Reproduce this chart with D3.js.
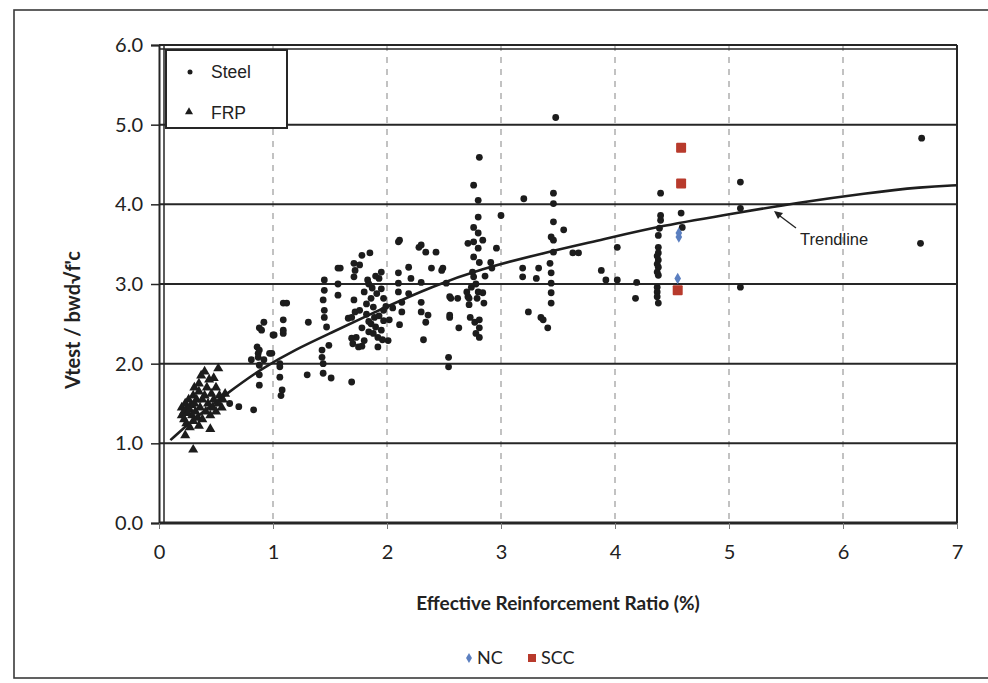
<!DOCTYPE html>
<html><head><meta charset="utf-8">
<script src="https://cdn.jsdelivr.net/npm/d3@7"></script>
<style>
body{margin:0;background:#fff;}
svg{display:block;}
</style></head>
<body><svg id="c" width="988" height="683"></svg>
<script>
// ---- data ----
const xTicks = [0,1,2,3,4,5,6,7];
const xTickLabels = ["0","1","2","3","4","5","6","7"];
const yTicks = [0,1,2,3,4,5,6];
const yTickLabels = ["0.0","1.0","2.0","3.0","4.0","5.0","6.0"];

const steel = [
[0.62,1.50],[0.70,1.46],[0.83,1.42],
[0.86,2.21],[0.87,2.13],[0.87,2.08],[0.88,2.17],[0.88,1.98],[0.88,1.86],[0.88,1.73],[0.90,2.42],[0.92,2.05],[0.81,2.05],[0.97,2.13],[0.99,2.13],[1.01,2.36],[1.06,1.96],[1.06,1.83],[1.08,1.67],[1.07,1.60],[1.09,2.38],[1.06,2.00],[1.09,2.76],[1.12,2.76],[1.09,2.55],[1.09,2.42],[0.92,2.52],[0.88,2.45],[1.00,2.36],[1.31,2.52],
[1.30,1.86],[1.45,3.05],[1.45,2.92],[1.44,2.80],[1.45,2.67],[1.45,2.58],[1.47,2.46],[1.43,2.17],[1.43,2.08],[1.44,2.00],[1.44,1.88],[1.51,1.82],[1.69,1.77],
[1.57,3.20],[1.57,3.00],[1.57,2.86],[1.71,3.26],[1.71,3.09],[1.71,2.80],[1.69,2.58],[1.73,2.33],[1.75,2.21],
[1.59,3.20],[1.72,3.17],[1.78,3.36],[1.85,3.39],[1.76,3.24],[1.72,2.65],[1.76,2.67],[1.80,2.90],[1.84,3.00],[1.86,2.82],[1.88,2.71],[1.89,2.58],[1.90,2.46],[1.92,2.33],[1.95,3.15],[1.93,3.07],[1.95,2.94],[1.97,2.82],[1.97,2.67],[1.97,2.54],[1.95,2.42],[1.84,2.53],[1.84,2.40],[1.80,2.29],[1.70,2.25],[1.78,2.22],[1.92,2.21],[2.01,2.29],[1.66,2.57],[1.69,2.32],[1.49,2.23],
[1.82,2.75],[1.87,2.95],[1.90,3.10],[1.93,2.60],[1.86,2.50],[1.82,2.62],[1.99,2.72],[1.91,2.88],[1.78,2.45],[1.83,3.05],[1.96,2.30],[1.88,2.38],
[2.10,3.53],[2.10,3.14],[2.10,3.01],[2.10,2.90],[2.13,2.77],[2.13,2.65],[2.11,2.49],[2.19,3.21],[2.21,3.07],[2.28,3.46],[2.34,3.40],[2.43,3.40],[2.39,3.20],[2.48,3.17],[2.30,3.02],[2.30,2.77],[2.30,2.65],[2.36,2.61],[2.34,2.52],[2.32,2.30],[2.55,2.84],[2.62,2.82],[2.55,2.58],[2.63,2.45],[2.54,2.08],[2.54,1.96],[2.11,3.55],[2.30,3.49],[2.19,2.88],[2.02,2.55],[2.05,2.70],
[2.71,3.51],[2.71,2.84],[2.81,4.59],[2.76,4.24],[2.80,4.05],[3.00,3.86],[2.80,3.84],[2.76,3.71],[2.80,3.64],[2.84,3.55],[2.76,3.53],[2.80,3.45],[2.96,3.45],[2.76,3.34],[2.81,3.27],[2.91,3.27],[2.92,3.20],[2.49,3.20],[2.76,3.09],[2.52,3.01],[2.74,2.96],[2.80,2.90],[2.84,2.89],[2.56,2.82],[2.72,2.82],[2.79,2.82],[2.85,2.76],[2.72,2.74],[2.55,2.61],[2.73,2.58],[2.77,2.52],[2.81,2.55],[2.81,2.45],[2.81,2.33],[2.78,2.38],[2.75,3.15],[2.78,3.00],[2.70,2.90],[2.86,3.10],
[3.20,4.07],[3.46,4.14],[3.46,4.01],[3.46,3.78],[3.55,3.68],[3.44,3.59],[3.46,3.55],[3.46,3.40],[3.63,3.39],[3.68,3.39],[3.43,3.26],[3.44,3.14],[3.44,3.01],[3.44,2.89],[3.44,2.76],[3.19,3.20],[3.19,3.09],[3.33,3.20],[3.31,3.07],[3.24,2.65],[3.35,2.58],[3.37,2.55],[3.41,2.45],[3.88,3.17],[3.92,3.05],[3.48,5.09],
[4.02,3.46],[4.02,3.05],[4.18,2.82],[4.19,3.02],[4.40,4.14],[4.40,3.86],[4.40,3.80],[4.38,3.61],[4.38,3.46],[4.38,3.39],[4.38,3.30],[4.38,3.21],[4.38,3.11],[4.37,2.96],[4.37,2.90],[4.37,2.84],[4.38,2.76],[4.39,3.70],[4.37,3.35],[4.37,3.25],[4.37,3.15],[4.58,3.89],[4.59,3.71],
[5.10,4.28],[5.10,3.95],[5.10,2.96],[6.69,4.83],[6.68,3.51]
];

const frp = [
[0.20,1.35],[0.20,1.45],[0.22,1.30],[0.22,1.40],[0.23,1.50],[0.24,1.25],[0.25,1.38],[0.25,1.45],[0.26,1.55],[0.27,1.20],[0.27,1.42],[0.28,1.48],[0.29,1.35],[0.30,1.60],[0.30,1.28],[0.31,1.70],[0.31,1.50],[0.32,1.40],[0.33,1.55],[0.34,1.32],[0.35,1.65],[0.35,1.75],[0.36,1.45],[0.37,1.85],[0.38,1.55],[0.38,1.30],[0.40,1.90],[0.40,1.60],[0.41,1.40],[0.42,1.70],[0.43,1.50],[0.44,1.80],[0.45,1.35],[0.46,1.62],[0.47,1.45],[0.48,1.82],[0.48,1.55],[0.50,1.70],[0.50,1.40],[0.52,1.94],[0.52,1.50],[0.53,1.60],[0.55,1.45],[0.56,1.55],[0.58,1.62],[0.23,1.10],[0.30,0.92],[0.45,1.18],[0.35,1.22]
];

const nc = [[4.56,3.59],[4.56,3.64],[4.55,3.07]];
const scc = [[4.58,4.71],[4.58,4.26],[4.55,2.92]];

const trend = [[0.1,1.04],[0.3,1.30],[0.6,1.63],[0.9,1.94],[1.2,2.18],[1.5,2.38],[2.0,2.72],[2.4,2.97],[2.8,3.18],[3.4,3.40],[3.9,3.56],[4.4,3.73],[5.1,3.90],[5.6,4.02],[6.2,4.14],[6.7,4.22],[7.0,4.24]];

// ---- drawing ----
const svg = d3.select("#c");
const x = d3.scaleLinear().domain([0,7]).range([159,957]);
const y = d3.scaleLinear().domain([0,6]).range([523,45]);
const dark = "#262626";
const calib = "Lato, 'Open Sans', sans-serif";
const arial = "'Liberation Sans', Arial, sans-serif";

// outer frame
svg.append("rect").attr("x",14).attr("y",10).attr("width",990).attr("height",668)
  .attr("fill","none").attr("stroke","#3a3a3a").attr("stroke-width",1.6);

// vertical dashed gridlines
svg.append("g").selectAll("line").data(xTicks.filter(d=>d>0&&d<7)).join("line")
  .attr("x1",d=>x(d)).attr("x2",d=>x(d)).attr("y1",y(6)).attr("y2",y(0))
  .attr("stroke","#9a9a9a").attr("stroke-width",1.2).attr("stroke-dasharray","6,6");

// horizontal gridlines
svg.append("g").selectAll("line").data(yTicks).join("line")
  .attr("x1",x(0)).attr("x2",x(7)).attr("y1",d=>y(d)).attr("y2",d=>y(d))
  .attr("stroke",dark).attr("stroke-width",d=>d===0?3:2);
// extra top double line
svg.append("line").attr("x1",x(0)).attr("x2",x(7)).attr("y1",y(6)+4).attr("y2",y(6)+4)
  .attr("stroke",dark).attr("stroke-width",1.5);

// axes
const yAxis = d3.axisLeft(y).tickValues(yTicks).tickFormat((d,i)=>yTickLabels[i]).tickSize(8).tickPadding(8);
const gy = svg.append("g").attr("transform",`translate(${x(0)},0)`).call(yAxis);
gy.select(".domain").attr("stroke",dark).attr("stroke-width",2);
gy.selectAll(".tick line").attr("stroke",dark).attr("stroke-width",1.5);
gy.selectAll("text").attr("font-family",calib).attr("font-size",20).attr("fill","#222");
// second left line
svg.append("line").attr("x1",x(0)+5).attr("x2",x(0)+5).attr("y1",y(6)).attr("y2",y(0))
  .attr("stroke",dark).attr("stroke-width",1.5);

const gx = svg.append("g").attr("transform",`translate(0,${y(0)})`)
  .call(d3.axisBottom(x).tickValues(xTicks).tickFormat((d,i)=>xTickLabels[i]).tickSize(6).tickPadding(16));
gx.select(".domain").remove();
gx.selectAll(".tick line").attr("stroke","#777").attr("stroke-width",1);
gx.selectAll("text").attr("font-family",calib).attr("font-size",20).attr("fill","#222");

// right border
svg.append("line").attr("x1",x(7)).attr("x2",x(7)).attr("y1",y(6)).attr("y2",y(0))
  .attr("stroke",dark).attr("stroke-width",2);

// axis titles
svg.append("text").attr("x",558).attr("y",610).attr("text-anchor","middle")
  .attr("font-family",calib).attr("font-weight","bold").attr("font-size",19).attr("fill","#222")
  .text("Effective Reinforcement Ratio (%)");
svg.append("text").attr("transform","translate(80,320) rotate(-90)").attr("text-anchor","middle")
  .attr("font-family",calib).attr("font-weight","bold").attr("font-size",20).attr("fill","#222")
  .text("Vtest / bwd\u221Af'c");

// trendline
svg.append("path").datum(trend)
  .attr("d",d3.line().x(d=>x(d[0])).y(d=>y(d[1])).curve(d3.curveBasis))
  .attr("fill","none").attr("stroke","#1e1e1e").attr("stroke-width",2.6);

// points
svg.append("g").selectAll("circle").data(steel).join("circle")
  .attr("cx",d=>x(d[0])).attr("cy",d=>y(d[1])).attr("r",3.4).attr("fill","#1c1c1c");
const tri = d3.symbol().type(d3.symbolTriangle).size(44);
svg.append("g").selectAll("path").data(frp).join("path")
  .attr("transform",d=>`translate(${x(d[0])},${y(d[1])})`).attr("d",tri).attr("fill","#1c1c1c");
const dia = d3.symbol().type(d3.symbolDiamond).size(38);
svg.append("g").selectAll("path").data(nc).join("path")
  .attr("transform",d=>`translate(${x(d[0])},${y(d[1])})`).attr("d",dia).attr("fill","#5b7fc0");
svg.append("g").selectAll("rect").data(scc).join("rect")
  .attr("x",d=>x(d[0])-5).attr("y",d=>y(d[1])-5).attr("width",10).attr("height",10).attr("rx",1)
  .attr("fill","#b83a2c");

// trendline annotation
svg.append("line").attr("x1",796).attr("y1",228).attr("x2",776).attr("y2",213)
  .attr("stroke","#222").attr("stroke-width",1.3);
svg.append("path").attr("d","M774,211 L783,213 L778,219 Z").attr("fill","#222");
svg.append("text").attr("x",800).attr("y",245).attr("font-family",arial).attr("font-size",16.5).attr("fill","#222").text("Trendline");

// legend box
const lg = svg.append("g");
lg.append("rect").attr("x",166).attr("y",50).attr("width",121).attr("height",78)
  .attr("fill","#fff").attr("stroke",dark).attr("stroke-width",2);
lg.append("circle").attr("cx",190).attr("cy",72).attr("r",2.5).attr("fill","#1c1c1c");
lg.append("text").attr("x",211).attr("y",78).attr("font-family",arial).attr("font-size",17.5).attr("fill","#222").text("Steel");
lg.append("path").attr("transform","translate(189,112)").attr("d",d3.symbol().type(d3.symbolTriangle).size(28)).attr("fill","#1c1c1c");
lg.append("text").attr("x",211).attr("y",119).attr("font-family",arial).attr("font-size",17.5).attr("fill","#222").text("FRP");

// bottom legend
const bl = svg.append("g");
bl.append("path").attr("transform","translate(469,658)").attr("d",d3.symbol().type(d3.symbolDiamond).size(30)).attr("fill","#5b7fc0");
bl.append("text").attr("x",477).attr("y",664).attr("font-family",calib).attr("font-size",18).attr("fill","#222").text("NC");
bl.append("rect").attr("x",528).attr("y",654).attr("width",8).attr("height",8).attr("fill","#b83a2c");
bl.append("text").attr("x",541).attr("y",664).attr("font-family",calib).attr("font-size",18).attr("fill","#222").text("SCC");
</script></body></html>
